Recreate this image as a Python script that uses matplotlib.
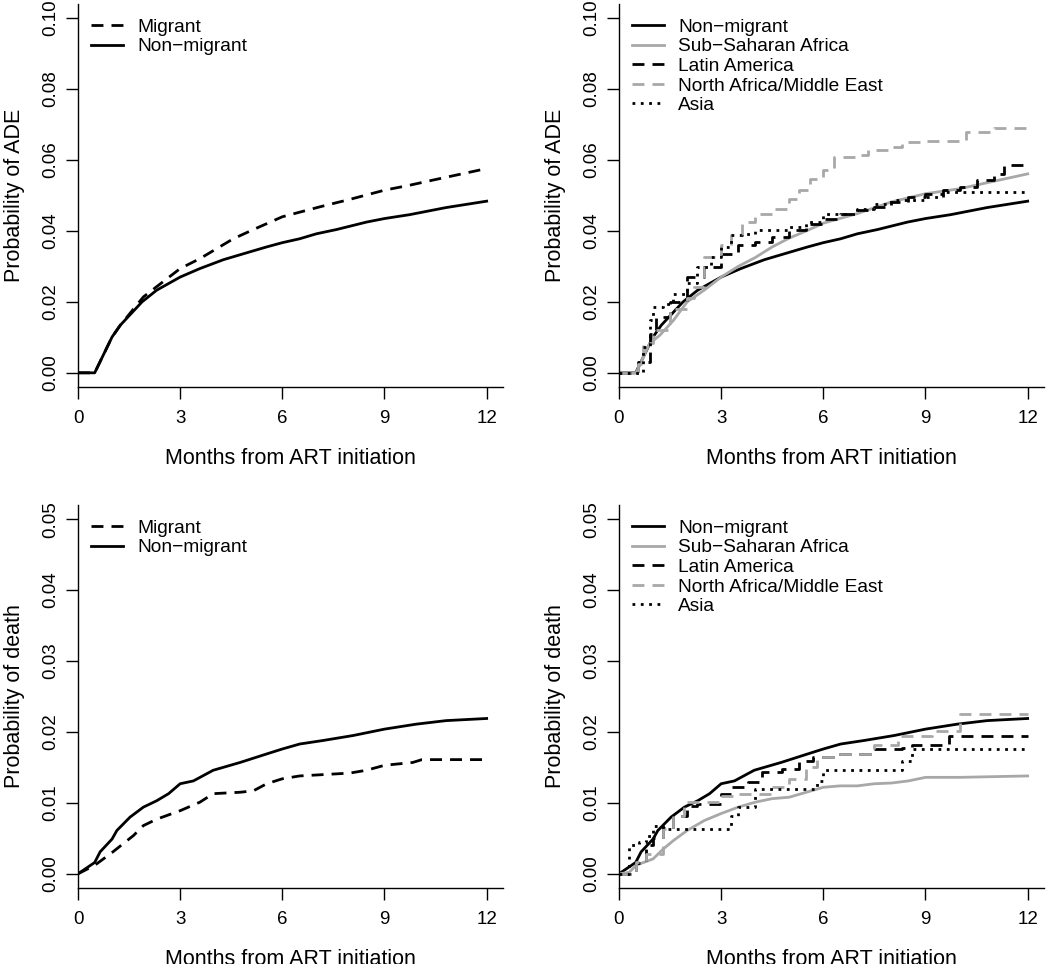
import matplotlib
matplotlib.use("Agg")
import matplotlib.pyplot as plt

plt.rcParams['font.family'] = ['Liberation Sans', 'DejaVu Sans']

GREY = '#a8a8a8'

# ---- ADE, migrant vs non-migrant ----
ade_nonmig_t = [0, 0.49, 1.0, 1.24, 1.88, 2.31, 3.0, 3.58, 4.27, 5.15, 5.54, 6.0, 6.51, 7.0,
                7.59, 8.47, 9.0, 9.74, 10.81, 12]
ade_nonmig_p = [0, 0, 0.0101, 0.0134, 0.0200, 0.0233, 0.0270, 0.0294, 0.0319, 0.0344, 0.0355,
                0.0367, 0.0378, 0.0392, 0.0404, 0.0425, 0.0435, 0.0446, 0.0466, 0.0484]
ade_mig_t = [0, 0.49, 1.0, 1.24, 1.92, 3.0, 3.58, 4.56, 5.15, 6.0, 7.1, 7.98, 9.0, 9.74, 10.4, 12]
ade_mig_p = [0, 0, 0.0101, 0.0134, 0.0214, 0.0294, 0.0322, 0.0378, 0.0404, 0.0440, 0.0468,
             0.0489, 0.0515, 0.0529, 0.0543, 0.0576]

# ---- ADE by region ----
ade_ssa_t = [0, 0.5, 0.9, 1.2, 1.6, 2.0, 2.5, 3.0, 3.5, 4.0, 4.5, 5.0, 5.5, 6.0, 7.0, 8.0, 9.0,
             10, 11, 12]
ade_ssa_p = [0, 0, 0.0083, 0.0106, 0.0148, 0.0200, 0.0233, 0.0270, 0.0300, 0.0325, 0.0355,
             0.0380, 0.0400, 0.0422, 0.0449, 0.0482, 0.0505, 0.0519, 0.0540, 0.0561]
ade_lat_t = [0, 0.55, 0.9, 1.1, 1.5, 2.0, 2.5, 3.0, 3.5, 4.0, 4.5, 5.0, 5.5, 6.0, 6.5, 7.0, 7.5,
             8.0, 8.5, 9.0, 9.5, 10.0, 10.5, 11.0, 11.3, 12]
ade_lat_p = [0, 0.0030, 0.0110, 0.0158, 0.0200, 0.0270, 0.0299, 0.0336, 0.0360, 0.0369, 0.0383,
             0.0402, 0.0421, 0.0435, 0.0449, 0.0458, 0.0468, 0.0482, 0.0496, 0.0505, 0.0515,
             0.0524, 0.0543, 0.0561, 0.0585, 0.0585]
ade_name_t = [0, 0.55, 0.7, 1.0, 1.5, 2.0, 2.2, 2.5, 3.0, 3.3, 3.6, 4.0, 4.5, 5.0, 5.3, 5.6, 6.0,
              6.3, 7.0, 7.3, 8.0, 8.3, 9.0, 10.2, 11.0, 12]
ade_name_p = [0, 0.0026, 0.0083, 0.0120, 0.0180, 0.0210, 0.0242, 0.0327, 0.0360, 0.0388, 0.0425,
              0.0449, 0.0463, 0.0491, 0.0515, 0.0547, 0.0571, 0.0608, 0.0613, 0.0627, 0.0638,
              0.0650, 0.0655, 0.0679, 0.0690, 0.0702]
ade_asia_t = [0, 0.4, 0.7, 0.9, 1.0, 1.3, 1.6, 2.0, 2.3, 2.7, 3.0, 3.3, 3.6, 4.0, 5.0, 5.5, 6.0,
              7.0, 7.5, 8.0, 9.0, 9.5, 12]
ade_asia_p = [0, 0, 0.0073, 0.0148, 0.0186, 0.0195, 0.0223, 0.0252, 0.0299, 0.0327, 0.0355,
              0.0388, 0.0392, 0.0402, 0.0411, 0.0425, 0.0449, 0.0463, 0.0477, 0.0486, 0.0496,
              0.0510, 0.0510]

# ---- Death, migrant vs non-migrant ----
dth_nonmig_t = [0, 0.49, 0.65, 1.0, 1.14, 1.53, 1.92, 2.31, 2.66, 3.0, 3.39, 3.97, 4.76, 5.54,
                6.0, 6.51, 7.2, 8.08, 9.0, 9.93, 10.81, 12]
dth_nonmig_p = [0, 0.0016, 0.0031, 0.0049, 0.0061, 0.0080, 0.0094, 0.0103, 0.0113, 0.0127,
                0.0131, 0.0146, 0.0157, 0.0169, 0.0176, 0.0183, 0.0188, 0.0195, 0.0204, 0.0211,
                0.0216, 0.0219]
dth_mig_t = [0, 0.49, 1.0, 1.63, 1.92, 2.31, 3.0, 3.58, 3.97, 4.76, 5.15, 5.54, 6.0, 6.51, 7.98,
             8.47, 9.0, 9.83, 10.1, 12]
dth_mig_p = [0, 0.0012, 0.0030, 0.0054, 0.0068, 0.0077, 0.0089, 0.0101, 0.0113, 0.0115, 0.0117,
             0.0127, 0.0134, 0.0138, 0.0142, 0.0146, 0.0153, 0.0157, 0.0161, 0.0161]

# ---- Death by region ----
dth_ssa_t = [0, 0.3, 0.5, 1.0, 1.3, 1.6, 2.0, 2.5, 3.0, 3.5, 4.0, 4.5, 5.0, 5.5, 6.0, 6.5, 7.0,
             7.5, 8.0, 8.5, 9.0, 10, 11, 12]
dth_ssa_p = [0, 0.0002, 0.0012, 0.0021, 0.0035, 0.0047, 0.0061, 0.0075, 0.0085, 0.0094, 0.0101,
             0.0106, 0.0108, 0.0115, 0.0122, 0.0124, 0.0124, 0.0127, 0.0128, 0.0131, 0.0136,
             0.0136, 0.0137, 0.0138]
dth_lat_t = [0, 0.5, 0.8, 1.0, 1.3, 1.6, 2.0, 2.3, 3.0, 3.3, 3.8, 4.2, 4.8, 5.3, 5.7, 6.5, 7.5,
             8.3, 8.6, 9.7, 12]
dth_lat_p = [0, 0.0015, 0.0040, 0.0050, 0.0065, 0.0082, 0.0096, 0.0099, 0.0113, 0.0122, 0.0129,
             0.0144, 0.0148, 0.0159, 0.0164, 0.0169, 0.0176, 0.0178, 0.0182, 0.0195, 0.0195]
dth_name_t = [0, 0.5, 0.8, 1.3, 1.6, 1.9, 2.6, 3.0, 3.4, 4.5, 5.0, 5.5, 5.8, 6.5, 7.5, 8.2, 9.2,
              10.0, 12]
dth_name_p = [0, 0.0016, 0.0028, 0.0063, 0.0082, 0.0101, 0.0101, 0.0110, 0.0113, 0.0122, 0.0134,
              0.0150, 0.0164, 0.0169, 0.0181, 0.0195, 0.0202, 0.0225, 0.0225]
dth_asia_t = [0, 0.3, 0.6, 0.8, 1.0, 1.3, 3.3, 3.5, 4.0, 5.8, 6.0, 8.3, 8.6, 12]
dth_asia_p = [0, 0.0040, 0.0045, 0.0054, 0.0068, 0.0063, 0.0082, 0.0094, 0.0120, 0.0131, 0.0146,
              0.0159, 0.0176, 0.0176]

LW = 2.0
DASH = (4.3, 2.9)
DOT = (1, 2)

fig = plt.figure(figsize=(10.5, 9.64), dpi=100)
W, H = 1050, 964
boxes = [(78, 4, 503, 387), (619, 4, 1044, 387), (78, 505, 503, 888), (619, 505, 1044, 888)]
axes = [fig.add_axes([x0 / W, 1 - y1 / H, (x1 - x0) / W, (y1 - y0) / H]) for x0, y0, x1, y1 in boxes]


def style(ax, ymax, ylabel):
    ax.set_xlim(0, 12.48)
    ax.set_ylim(-0.04 * ymax, ymax * 1.04)
    ax.set_xticks([0, 3, 6, 9, 12])
    step = ymax / 5
    ax.set_yticks([round(i * step, 3) for i in range(6)])
    ax.set_yticklabels(["%.2f" % (i * step) for i in range(6)], rotation=90, va='center')
    for s in ['top', 'right']:
        ax.spines[s].set_visible(False)
    for s in ['left', 'bottom']:
        ax.spines[s].set_linewidth(1.0)
    ax.tick_params(direction='out', length=8.5, width=1.0, labelsize=13.5)
    ax.tick_params(axis='x', pad=8)
    ax.tick_params(axis='y', pad=5)
    ax.set_xlabel("Months from ART initiation", fontsize=15.5, labelpad=15)
    ax.set_ylabel(ylabel, fontsize=15.5, labelpad=12.5)


def two_group(ax, mig_t, mig_p, non_t, non_p):
    ax.plot(mig_t, mig_p, color='black', lw=LW, dashes=DASH, label="Migrant")
    ax.plot(non_t, non_p, color='black', lw=LW, label="Non\u2212migrant")


def regions(ax, non, ssa, lat, name, asia):
    ax.plot(*non, color='black', lw=LW, label="Non\u2212migrant")
    ax.plot(*ssa, color=GREY, lw=LW, label="Sub\u2212Saharan Africa")
    ax.plot(*lat, color='black', lw=LW, dashes=DASH, drawstyle='steps-post', label="Latin America")
    ax.plot(*name, color=GREY, lw=LW, dashes=DASH, drawstyle='steps-post',
            label="North Africa/Middle East")
    ax.plot(*asia, color='black', lw=LW, dashes=DOT, drawstyle='steps-post', label="Asia")


def legend(ax):
    ax.legend(loc='upper left', bbox_to_anchor=(0.03, 0.963), frameon=False, fontsize=13.75,
              handlelength=1.7, handletextpad=0.72, labelspacing=0.12, borderpad=0,
              borderaxespad=0)


two_group(axes[0], ade_mig_t, ade_mig_p, ade_nonmig_t, ade_nonmig_p)
regions(axes[1], (ade_nonmig_t, ade_nonmig_p), (ade_ssa_t, ade_ssa_p), (ade_lat_t, ade_lat_p),
        (ade_name_t, ade_name_p), (ade_asia_t, ade_asia_p))
two_group(axes[2], dth_mig_t, dth_mig_p, dth_nonmig_t, dth_nonmig_p)
regions(axes[3], (dth_nonmig_t, dth_nonmig_p), (dth_ssa_t, dth_ssa_p), (dth_lat_t, dth_lat_p),
        (dth_name_t, dth_name_p), (dth_asia_t, dth_asia_p))

style(axes[0], 0.10, "Probability of ADE")
style(axes[1], 0.10, "Probability of ADE")
style(axes[2], 0.05, "Probability of death")
style(axes[3], 0.05, "Probability of death")
for ax in axes:
    legend(ax)

fig.savefig("out.png", dpi=100)
